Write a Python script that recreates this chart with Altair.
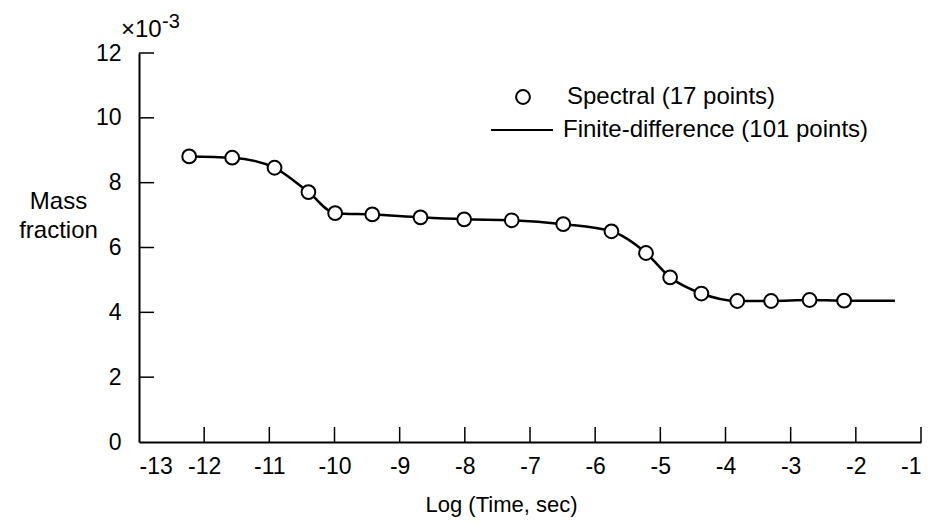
import altair as alt
import pandas as pd

# Spectral solution points (log time, mass fraction x 1e3)
spec_x = [-12.23, -11.57, -10.92, -10.40, -9.99, -9.42, -8.68, -8.01, -7.28,
          -6.49, -5.75, -5.22, -4.85, -4.37, -3.82, -3.30, -2.71, -2.18]
spec_y = [8.81, 8.77, 8.46, 7.71, 7.06, 7.02, 6.93, 6.87, 6.84,
          6.72, 6.50, 5.83, 5.08, 4.58, 4.35, 4.35, 4.38, 4.36]

# Finite-difference curve
fd_x = [-12.23, -11.57, -10.92, -10.40, -9.99, -9.42, -8.68, -8.01, -7.28,
        -6.49, -5.75, -5.22, -4.85, -4.37, -3.82, -3.30, -2.71, -2.18, -1.40]
fd_y = [8.81, 8.77, 8.46, 7.71, 7.06, 7.02, 6.93, 6.87, 6.84,
        6.72, 6.50, 5.83, 5.08, 4.58, 4.35, 4.35, 4.38, 4.36, 4.36]

x_ticks = [-13, -12, -11, -10, -9, -8, -7, -6, -5, -4, -3, -2, -1]
y_ticks = [0, 2, 4, 6, 8, 10, 12]
legend_labels = ["Spectral (17 points)", "Finite-difference (101 points)"]
exp_base = "\u00d710"
exp_power = "-3"

W, H = 782, 389
TEXT_FONT = "Liberation Sans"
X_MIN, X_MAX, Y_MIN, Y_MAX = -13, -1, 0, 12
TICK_PX = 15

spec_df = pd.DataFrame({"x": spec_x, "y": spec_y})
fd_df = pd.DataFrame({"x": fd_x, "y": fd_y})
xt_df = pd.DataFrame({"t": x_ticks[1:]})
yt_df = pd.DataFrame({"t": y_ticks[1:]})

xscale = alt.Scale(domain=[X_MIN, X_MAX], nice=False, zero=False)
yscale = alt.Scale(domain=[Y_MIN, Y_MAX], nice=False, zero=False)

x_axis = alt.Axis(
    values=x_ticks, ticks=False, grid=False,
    labelPadding=13, labelExpr="'' + datum.value",
    title="Log (Time, sec)", titleFontSize=22,
    titleX=362, titleY=62, titleBaseline="middle", titleAlign="center",
)
y_axis = alt.Axis(
    values=y_ticks, ticks=False, grid=False,
    labelPadding=18, labelExpr="'' + datum.value",
    title=["Mass", "fraction"], titleFontSize=24, titleAngle=0,
    titleX=-81, titleY=148, titleAlign="center", titleBaseline="middle",
    titleLineHeight=29,
)

line = alt.Chart(fd_df).mark_line(
    color="black", strokeWidth=2.5, interpolate="monotone"
).encode(
    x=alt.X("x:Q", scale=xscale, axis=x_axis),
    y=alt.Y("y:Q", scale=yscale, axis=y_axis),
)

points = alt.Chart(spec_df).mark_point(
    shape="circle", filled=False, fill="white", fillOpacity=1,
    stroke="black", strokeWidth=2, size=190, opacity=1
).encode(
    x=alt.X("x:Q", scale=xscale, axis=x_axis),
    y=alt.Y("y:Q", scale=yscale, axis=y_axis),
)

# inward-pointing ticks (length expressed through the scales)
tick_dy = TICK_PX * (Y_MAX - Y_MIN) / H
tick_dx = TICK_PX * (X_MAX - X_MIN) / W

xticks = alt.Chart(xt_df).mark_rule(color="black", strokeWidth=1.5).encode(
    x=alt.X("t:Q", scale=xscale, axis=x_axis),
    y=alt.datum(Y_MIN, scale=yscale),
    y2=alt.datum(Y_MIN + tick_dy),
)

yticks = alt.Chart(yt_df).mark_rule(color="black", strokeWidth=1.5).encode(
    y=alt.Y("t:Q", scale=yscale, axis=y_axis),
    x=alt.datum(X_MIN, scale=xscale),
    x2=alt.datum(X_MIN + tick_dx),
)

# Legend (drawn by hand to match the original layout)
leg_point = alt.Chart(pd.DataFrame({"l": [legend_labels[0]]})).mark_point(
    shape="circle", filled=False, fill="white", fillOpacity=1,
    stroke="black", strokeWidth=2, size=190, opacity=1
).encode(x=alt.value(384), y=alt.value(44))

leg_text1 = alt.Chart(pd.DataFrame({"l": [legend_labels[0]]})).mark_text(
    align="left", baseline="middle", font=TEXT_FONT, fontSize=24, color="black"
).encode(text="l:N", x=alt.value(428), y=alt.value(44))

leg_rule = alt.Chart(pd.DataFrame({"l": [legend_labels[1]]})).mark_rule(
    color="black", strokeWidth=2
).encode(x=alt.value(352), x2=alt.value(414), y=alt.value(77))

leg_text2 = alt.Chart(pd.DataFrame({"l": [legend_labels[1]]})).mark_text(
    align="left", baseline="middle", font=TEXT_FONT, fontSize=24, color="black"
).encode(text="l:N", x=alt.value(424), y=alt.value(77))

exp1 = alt.Chart(pd.DataFrame({"l": [exp_base]})).mark_text(
    align="left", baseline="middle", font=TEXT_FONT, fontSize=24, color="black"
).encode(text="l:N", x=alt.value(-18), y=alt.value(-23))

exp2 = alt.Chart(pd.DataFrame({"l": [exp_power]})).mark_text(
    align="left", baseline="middle", font=TEXT_FONT, fontSize=20, color="black"
).encode(text="l:N", x=alt.value(23), y=alt.value(-31))

chart = alt.layer(
    line, xticks, yticks, points,
    leg_point, leg_text1, leg_rule, leg_text2, exp1, exp2
).properties(
    width=W, height=H,
    autosize=alt.AutoSizeParams(type="none"),
    padding={"left": 131, "top": 45, "right": 8, "bottom": 75},
    background="white",
).configure_view(stroke=None).configure_axis(
    ticks=False, tickOpacity=0, grid=False,
    domainColor="black", domainWidth=2,
    labelFont=TEXT_FONT, labelFontSize=23, labelColor="black",
    titleFont=TEXT_FONT, titleFontWeight="normal", titleColor="black",
)

chart.save("out.html", embed_options={"renderer": "svg", "actions": False})
